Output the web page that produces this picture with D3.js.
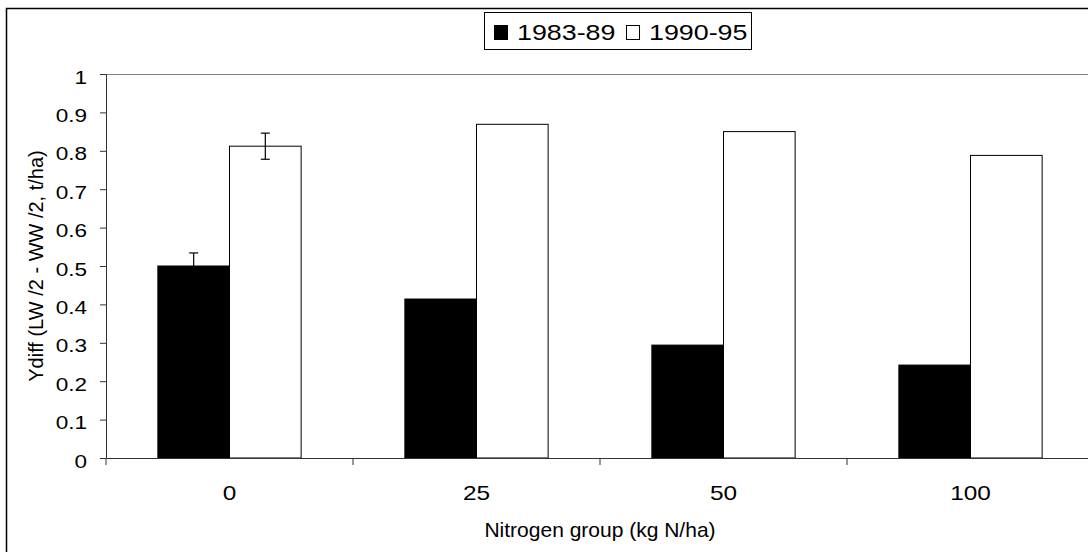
<!DOCTYPE html>
<html>
<head>
<meta charset="utf-8">
<script src="https://cdn.jsdelivr.net/npm/d3@7"></script>
<style>
  body { margin: 0; background: #fff; }
  svg { display: block; font-family: "Liberation Sans", Arial, sans-serif; }
</style>
</head>
<body>
<div id="chart"></div>
<script>
let categories = ["0", "25", "50", "100"];
let series = ["1983-89", "1990-95"];
let values8389 = [0.50, 0.414, 0.294, 0.242];
let values9095 = [0.812, 0.869, 0.850, 0.788];
let err8389 = [0.034, null, null, null];
let err9095 = [0.034, null, null, null];
let yTicks = [0, 0.1, 0.2, 0.3, 0.4, 0.5, 0.6, 0.7, 0.8, 0.9, 1];

let width = 1088;
let height = 552;
let margin = { top: 74, right: -6, bottom: 94, left: 106 };
// the original chart was stretched sideways, so the labels are too
let sx = 1.22;

let svg = d3.select("#chart")
  .append("svg")
  .attr("width", width)
  .attr("height", height);

svg.append("rect")
  .attr("width", width)
  .attr("height", height)
  .attr("fill", "#fff");

// outer chart border (runs off the right and bottom edges)
svg.append("rect")
  .attr("x", 6.5)
  .attr("y", 8.5)
  .attr("width", width + 20)
  .attr("height", height + 20)
  .attr("fill", "none")
  .attr("stroke", "#000")
  .attr("stroke-width", 1.5);

let x0 = d3.scaleBand()
  .domain(categories)
  .range([margin.left, width - margin.right]);

let x1 = d3.scaleBand()
  .domain(series)
  .range([x0.bandwidth() * 0.21, x0.bandwidth() * 0.79]);

let y = d3.scaleLinear()
  .domain([0, 1])
  .range([height - margin.bottom, margin.top]);

let color = d3.scaleOrdinal()
  .domain(series)
  .range(["#000", "#fff"]);

// plot area top border
svg.append("line")
  .attr("x1", margin.left)
  .attr("x2", width - margin.right)
  .attr("y1", y(1) + 0.5)
  .attr("y2", y(1) + 0.5)
  .attr("stroke", "#808080");

let chartData = categories.map((c, i) => ({
  category: c,
  bars: [
    { series: series[0], value: values8389[i], err: err8389[i] },
    { series: series[1], value: values9095[i], err: err9095[i] }
  ]
}));

let groups = svg.append("g")
  .selectAll("g")
  .data(chartData)
  .enter()
  .append("g")
  .attr("transform", d => `translate(${x0(d.category)},0)`);

groups.selectAll("rect")
  .data(d => d.bars)
  .enter()
  .append("rect")
  .attr("x", d => x1(d.series))
  .attr("y", d => y(d.value))
  .attr("width", x1.bandwidth())
  .attr("height", d => y(0) - y(d.value))
  .attr("fill", d => color(d.series))
  .attr("stroke", "#000")
  .attr("stroke-width", 1);

// error bars
let errs = groups.selectAll("g.err")
  .data(d => d.bars.filter(b => b.err != null))
  .enter()
  .append("g")
  .attr("class", "err")
  .attr("stroke", "#000")
  .attr("stroke-width", 1.2);

errs.append("line")
  .attr("x1", d => x1(d.series) + x1.bandwidth() / 2)
  .attr("x2", d => x1(d.series) + x1.bandwidth() / 2)
  .attr("y1", d => y(d.value + d.err))
  .attr("y2", d => y(d.value - d.err));

[1, -1].forEach(s => {
  errs.append("line")
    .attr("x1", d => x1(d.series) + x1.bandwidth() / 2 - 4.5)
    .attr("x2", d => x1(d.series) + x1.bandwidth() / 2 + 4.5)
    .attr("y1", d => y(d.value + s * d.err))
    .attr("y2", d => y(d.value + s * d.err));
});

// y axis
let yAxis = svg.append("g")
  .attr("transform", `translate(${margin.left}, 0)`)
  .call(d3.axisLeft(y)
    .tickValues(yTicks)
    .tickFormat(d3.format("~g"))
    .tickSize(6)
    .tickSizeOuter(0));

yAxis.select(".domain").attr("stroke", "#333");
yAxis.selectAll(".tick line").attr("stroke", "#333");
yAxis.selectAll("text")
  .attr("font-size", 18.5)
  .attr("fill", "#000")
  .attr("x", -19 / sx)
  .attr("dy", 9)
  .attr("transform", `scale(${sx},1)`);

// x axis: labels at band centres, ticks at band edges
let xAxis = svg.append("g")
  .attr("transform", `translate(0, ${y(0)})`)
  .call(d3.axisBottom(x0).tickSize(0).tickSizeOuter(0).tickPadding(28));

xAxis.select(".domain").attr("stroke", "#333");
xAxis.selectAll("text")
  .attr("font-size", 20)
  .attr("fill", "#000")
  .attr("transform", `scale(${sx},1)`);

let edges = categories.map(c => x0(c)).concat([x0.range()[1]]);
xAxis.selectAll("line.edge")
  .data(edges)
  .enter()
  .append("line")
  .attr("class", "edge")
  .attr("x1", d => d)
  .attr("x2", d => d)
  .attr("y1", 0)
  .attr("y2", 7)
  .attr("stroke", "#333");

// axis titles
svg.append("text")
  .attr("x", (x0.range()[0] + x0.range()[1]) / 2)
  .attr("y", 537)
  .attr("text-anchor", "middle")
  .attr("font-size", 21)
  .text("Nitrogen group (kg N/ha)");

svg.append("text")
  .attr("transform", `translate(43, ${(y(0) + y(1)) / 2}) rotate(-90)`)
  .attr("text-anchor", "middle")
  .attr("font-size", 20)
  .text("Ydiff (LW /2 - WW /2, t/ha)");

// legend
let legend = svg.append("g");

legend.append("rect")
  .attr("x", 484.5)
  .attr("y", 12.5)
  .attr("width", 267)
  .attr("height", 37)
  .attr("fill", "#fff")
  .attr("stroke", "#000");

let legendX = [494, 626];
series.forEach((s, i) => {
  legend.append("rect")
    .attr("x", legendX[i] + 0.5)
    .attr("y", 25.5)
    .attr("width", 13)
    .attr("height", 14)
    .attr("fill", color(s))
    .attr("stroke", "#000");

  legend.append("text")
    .attr("transform", `translate(${legendX[i] + 23}, 40) scale(${sx},1)`)
    .attr("font-size", 22)
    .text(s);
});
</script>
</body>
</html>
